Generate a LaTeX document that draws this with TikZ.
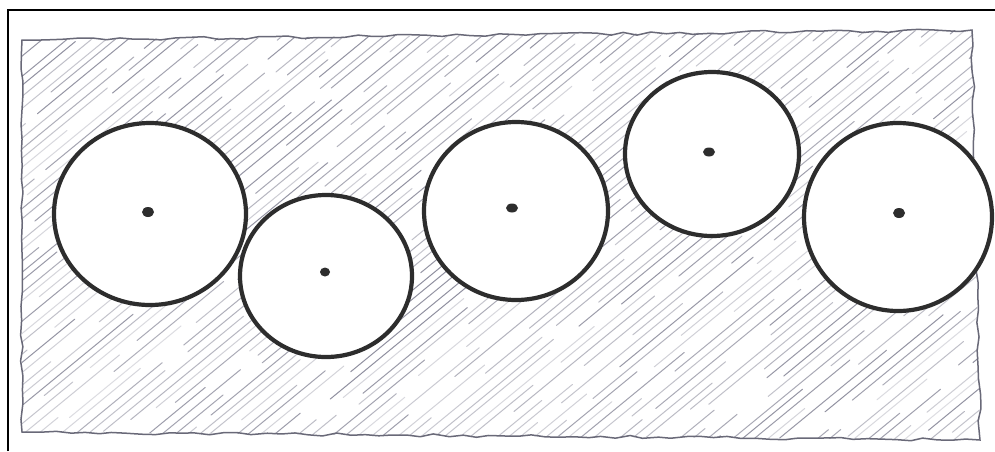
\documentclass[tikz,border=0pt]{standalone}
\usetikzlibrary{calc,decorations.pathmorphing,shapes.geometric}
\definecolor{hatch}{RGB}{100,100,122}
\definecolor{edge}{RGB}{105,105,120}
\definecolor{ink}{RGB}{45,45,45}
\tikzset{
  frameline/.style={black,line width=1.3pt},
  sketchedge/.style={edge,line width=1.5pt,decorate,decoration={random steps,segment length=14pt,amplitude=1.6pt}},
  hatchline/.style={hatch,line width=1pt,line cap=round},
  disc/.style={ellipse,fill=white,draw=ink,line width=4.2pt,inner sep=0pt},
  centre/.style={fill=ink,draw=none}
}
\begin{document}
\begin{tikzpicture}[x=1pt,y=-1pt]
\useasboundingbox (0,0) rectangle (995,451);
\fill[white] (0,0) rectangle (995,451);
% frame
\draw[frameline] (8,451) -- (8,10) -- (995,10);
% sketched rectangle outline as coordinates
\coordinate (tl) at (22,40);
\coordinate (tr) at (972,30);
\coordinate (br) at (980,440);
\coordinate (bl) at (22,432);
% hatching
\pgfmathsetseed{23}
\begin{scope}
\clip (tl) -- (tr) -- (br) -- (bl) -- cycle;
\foreach \i in {0,...,128}{
  \pgfmathsetmacro\xo{-560+\i*12.5+rnd*4}
  \pgfmathsetmacro\sh{rnd*0.3}
  \coordinate (ha) at (\xo,450);
  \coordinate (hb) at (\xo+560,-10);
  \foreach \k in {-1,0,1,2,3}{
    \pgfmathsetmacro\ta{\sh+\k*0.3+rnd*0.05}
    \pgfmathsetmacro\tb{\sh+\k*0.3+0.3-rnd*0.08}
    \pgfmathsetmacro\op{0.22+rnd*0.5}
    \draw[hatchline,opacity=\op] ($(ha)!\ta!(hb)$) -- ($(ha)!\tb!(hb)$);
  }
}
\end{scope}
\draw[sketchedge] (tl) -- (tr) -- (br) -- (bl) -- cycle;
% circles
\node[disc,minimum width=192pt,minimum height=182pt] (c1) at (150,214) {};
\node[disc,minimum width=172pt,minimum height=162pt] (c2) at (326,276) {};
\node[disc,minimum width=184pt,minimum height=178pt] (c3) at (516,211) {};
\node[disc,minimum width=174pt,minimum height=164pt] (c4) at (712,154) {};
\node[disc,minimum width=188pt,minimum height=188pt] (c5) at (898,217) {};
% dots
\fill[centre] (148,212) ellipse (6 and 5);
\fill[centre] (325,272) ellipse (5 and 4.5);
\fill[centre] (512,208) ellipse (6 and 4.5);
\fill[centre] (709,152) ellipse (6 and 4.5);
\fill[centre] (899,213) ellipse (6 and 5);
\end{tikzpicture}
\end{document}
